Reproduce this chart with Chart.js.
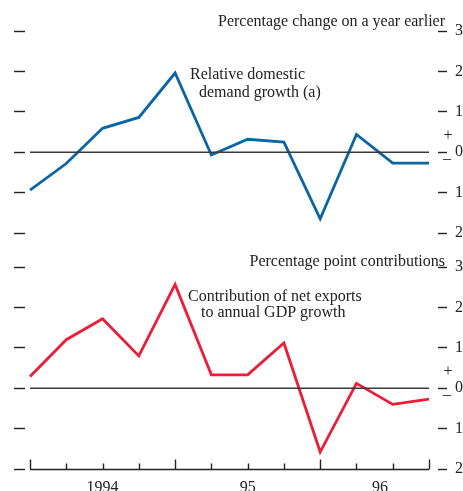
<!DOCTYPE html>
<html>
<head>
<meta charset="utf-8">
<script src="https://cdn.jsdelivr.net/npm/chart.js@4"></script>
<style>
html,body{margin:0;padding:0;background:#fff;}
#wrap{position:relative;width:463px;height:491px;overflow:hidden;}
#wrap canvas{position:absolute;left:0;top:0;}
</style>
</head>
<body>
<div id="wrap">
<canvas id="demandChart" width="463" height="491"></canvas>
<canvas id="exportChart" width="463" height="491"></canvas>
</div>
<script>
// quarterly observations, Q1 1994 .. Q4 1996 (12 quarters)
const quarters=['94Q1','94Q2','94Q3','94Q4','95Q1','95Q2','95Q3','95Q4','96Q1','96Q2','96Q3','96Q4'];
const demandGrowth=[-0.94,-0.28,0.59,0.86,1.96,-0.07,0.32,0.25,-1.65,0.44,-0.27,-0.27];
const netExports=[0.29,1.2,1.72,0.8,2.57,0.33,0.33,1.12,-1.58,0.12,-0.40,-0.27];
const yTicks=[-2,-1,0,1,2,3];
const yearLabels=['1994','95','96'];
const yearLabelAt=[2,6,9.65];
const yearStartIdx=[0,4,8,11];

const serif='"Liberation Serif","Times New Roman",serif';
const BLUE='#0b65a5',RED='#ec1d38',INK='#222';

function pts(vals){return vals.map((v,i)=>({x:i,y:v}));}

// text overlays + sign marks next to the zero label
function notesPlugin(notes){
return{id:'notes',afterDraw(chart){
const ctx=chart.ctx,ys=chart.scales.yR;
ctx.save();
ctx.fillStyle=INK;
ctx.font='16px '+serif;
ctx.textBaseline='alphabetic';
notes.forEach(n=>{ctx.textAlign=n.align||'left';ctx.fillText(n.text,n.x,n.y);});
const y0=ys.getPixelForValue(0);
ctx.textAlign='center';ctx.textBaseline='middle';
ctx.fillText('+',448,y0-16);
ctx.fillText('–',447,y0+7);
ctx.restore();
}};
}

// bottom axis rule with quarter ticks pointing up
const axisPlugin={id:'qaxis',afterDatasetsDraw(chart){
const ctx=chart.ctx,xs=chart.scales.x,ys=chart.scales.yL;
const yb=Math.round(ys.getPixelForValue(-2))+0.5;
ctx.save();
ctx.strokeStyle=INK;ctx.lineWidth=1.4;
ctx.beginPath();
ctx.moveTo(xs.getPixelForValue(0),yb);
ctx.lineTo(xs.getPixelForValue(quarters.length-1),yb);
quarters.forEach((q,i)=>{
const x=Math.round(xs.getPixelForValue(i))+0.5;
const len=yearStartIdx.includes(i)?10:6;
ctx.moveTo(x,yb);ctx.lineTo(x,yb-len);
});
ctx.stroke();
ctx.restore();
}};

function makeChart(id,vals,color,padTop,padBottom,showYears,notes){
const plugins=[notesPlugin(notes)];
if(showYears)plugins.push(axisPlugin);
return new Chart(document.getElementById(id),{
type:'line',
data:{datasets:[
{data:[{x:0,y:0},{x:quarters.length-1,y:0}],borderColor:'#3a3a3a',borderWidth:1.6,pointRadius:0,yAxisID:'yL'},
{data:pts(vals),borderColor:color,borderWidth:2.8,pointRadius:0,tension:0,yAxisID:'yL'}
]},
options:{
responsive:false,animation:false,
layout:{padding:{top:padTop,bottom:padBottom,left:0,right:0}},
plugins:{legend:{display:false},tooltip:{enabled:false}},
scales:{
x:{type:'linear',min:-0.138,max:11.248,display:showYears,
grid:{display:false,drawTicks:false},border:{display:false},
afterBuildTicks:s=>{s.ticks=yearLabelAt.map(v=>({value:v}));},
afterFit:s=>{s.height=showYears?22:0;},
ticks:{autoSkip:false,maxRotation:0,padding:9,color:INK,font:{family:serif,size:16},
callback:(v,i)=>yearLabels[i]}},
yL:{position:'left',min:-2,max:3,
afterBuildTicks:s=>{s.ticks=yTicks.map(v=>({value:v}));},
afterFit:s=>{s.width=25;},
grid:{drawOnChartArea:false,tickLength:11,tickWidth:1.4,tickColor:INK},
border:{display:false},ticks:{display:false}},
yR:{position:'right',min:-2,max:3,
afterBuildTicks:s=>{s.ticks=yTicks.map(v=>({value:v}));},
afterFit:s=>{s.width=25;},
grid:{drawOnChartArea:false,tickLength:9,tickWidth:1.4,tickColor:INK},
border:{display:false},
ticks:{padding:8,color:INK,font:{family:serif,size:16},callback:v=>String(Math.abs(v))}}
}
},
plugins
});
}

makeChart('demandChart',demandGrowth,BLUE,31,258,false,[
{text:'Percentage change on a year earlier',x:445,y:26,align:'right'},
{text:'Relative domestic',x:190,y:79},
{text:'demand growth (a)',x:199,y:97}
]);
makeChart('exportChart',netExports,RED,267,0,true,[
{text:'Percentage point contributions',x:445,y:266,align:'right'},
{text:'Contribution of net exports',x:188,y:301},
{text:'to annual GDP growth',x:201,y:317}
]);
</script>
</body>
</html>
